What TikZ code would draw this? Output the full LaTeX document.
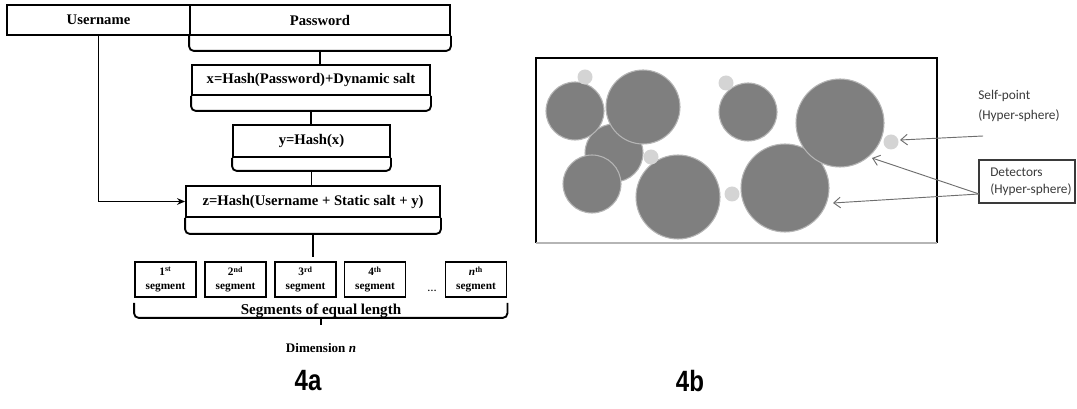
\documentclass[tikz,border=0pt]{standalone}
\usepackage{fontspec}
\setmainfont{Liberation Serif}
\newfontfamily\carl{Carlito}
\newfontfamily\lsans{Liberation Sans}
\usetikzlibrary{arrows.meta,calc}
\definecolor{dark}{HTML}{7F7F7F}
\definecolor{rim}{HTML}{B5B5B5}
\definecolor{light}{HTML}{D4D4D4}
\definecolor{txt}{HTML}{3A3A3A}
\definecolor{arr}{HTML}{6E6E6E}
\begin{document}
\begin{tikzpicture}[x=0.75pt,y=-0.75pt,
  box/.style={draw,line width=1.4pt,inner sep=0,font=\bfseries\fontsize{11}{13}\selectfont},
  brk/.style={draw,line width=1.4pt,rounded corners=3.5pt},
  tick/.style={draw,line width=1.4pt},
  seg/.style={draw,line width=1.4pt,minimum width=45.75pt,minimum height=26.25pt,inner sep=0,align=center,font=\bfseries\fontsize{8.5}{10.5}\selectfont},
  bigdisc/.style={fill=dark,draw=rim,line width=0.8pt},
  smalldisc/.style={fill=light,draw=none},
  lbl/.style={text=txt,font=\carl\fontsize{10}{15}\selectfont,align=left,inner sep=0},
  thinarrow/.style={draw=arr,line width=0.7pt,-{Straight Barb[length=5pt,width=8pt]}},
  fig/.style={font=\lsans\bfseries\fontsize{22}{26}\selectfont,inner sep=0}
]
\useasboundingbox (0,0) rectangle (1077,409);
% ---------- 4a ----------
\node[box,minimum width=137.25pt,minimum height=22.5pt] (un) at (98.5,20) {Username};
\node[box,minimum width=195pt,minimum height=22.5pt] (pw) at (320,20) {Password};
\node[box,minimum width=178.5pt,minimum height=22.5pt] (xh) at (311,80) {x=Hash(Password)+Dynamic salt};
\node[box,minimum width=117.75pt,minimum height=24pt] (yh) at (311.5,141) {y=Hash(x)};
\node[box,minimum width=190.5pt,minimum height=23.25pt] (zh) at (313,201.5) {z=Hash(Username + Static salt + y)};
% brackets
\draw[brk] (pw.south west) -- ++(0,15) -| (pw.south east);
\draw[brk] (xh.south west) -- ++(0,15) -| (xh.south east);
\draw[brk] (yh.south west) -- ++(0,13) -| (yh.south east);
\draw[brk] (zh.south west) -- ++(0,16) -| (zh.south east);
% ticks
\coordinate (pwb) at ($(pw.south)+(0,15)$);
\coordinate (xhb) at ($(xh.south)+(0,15)$);
\coordinate (yhb) at ($(yh.south)+(0,13)$);
\coordinate (zhb) at ($(zh.south)+(0,16)$);
\coordinate (zend) at ($(zhb)+(0,23)$);
\draw[tick] (pwb) -- (pwb |- xh.north);
\draw[tick] (xhb) -- (xhb |- yh.north);
\draw[tick] (yhb) -- (yhb |- zh.north);
\draw[tick] (zhb) -- (zend);
\draw[tick,-{Stealth[length=6pt,width=5pt]}] (un.south) |- (zh.west);
% segments
\node[seg] (s1) at (165.5,279.5) {1\textsuperscript{st}\\segment};
\node[seg] (s2) at (235.5,279.5) {2\textsuperscript{nd}\\segment};
\node[seg] (s3) at (305.5,279.5) {3\textsuperscript{rd}\\segment};
\node[seg] (s4) at (375,279.5) {4\textsuperscript{th}\\segment};
\node[seg] (sn) at (476,279.5) {\textit{n}\textsuperscript{th}\\segment};
\node[font=\bfseries\fontsize{7}{8}\selectfont,inner sep=0] (dots) at (432,291) {\dots};
\draw[brk] ($(s1.south west)+(0,5)$) -- ($(s1.south west)+(0,20)$) -| ($(sn.south east)+(0,5)$);
\coordinate (bmid) at ($(s1.south west)!0.5!(sn.south east)+(0,20)$);
\coordinate (bend) at ($(bmid)+(0,7)$);
\draw[tick] (bmid) -- (bend);
\node[font=\bfseries\fontsize{11.3}{13}\selectfont,anchor=base,inner sep=0] (eq) at (321,315) {Segments of equal length};
\node[font=\bfseries\fontsize{9.8}{11}\selectfont,inner sep=0] (dim) at (321,348) {Dimension \textit{n}};
% ---------- 4b ----------
\draw[line width=1.2pt] (536,243) -- (536,58) -- (937,58) -- (937,243);
\draw[line width=0.8pt,draw=rim] (536,243) -- (937,243);
\fill[bigdisc] (614,153) circle (29);
\fill[bigdisc] (575,111) circle (29);
\fill[bigdisc] (643,107) circle (37);
\fill[bigdisc] (592,184) circle (29);
\fill[bigdisc] (678,197) circle (42);
\fill[bigdisc] (748,112) circle (29);
\fill[bigdisc] (785,188) circle (44);
\fill[bigdisc] (840,123) circle (44);
\fill[smalldisc] (585,77) circle (7.5);
\fill[smalldisc] (726,83) circle (7.5);
\fill[smalldisc] (651,157) circle (7.5);
\fill[smalldisc] (732,194) circle (7.5);
\fill[smalldisc] (891,142) circle (7.5);
\node[lbl,anchor=west] (sp) at (978,106) {Self-point\\(Hyper-sphere)};
\node[draw=txt,line width=1.2pt,minimum width=72pt,minimum height=32.25pt,inner sep=0] (det) at (1027,181.5) {};
\node[lbl,anchor=west,font=\carl\fontsize{10}{12.5}\selectfont] (dett) at (990,181.5) {Detectors\\(Hyper-sphere)};
\coordinate (spstart) at (983,136);
\coordinate (sptip) at (900,140);
\coordinate (detstart) at (979,194);
\coordinate (dtip1) at (872,158);
\coordinate (dtip2) at (833,203);
\draw[thinarrow] (spstart) -- (sptip);
\draw[thinarrow] (detstart) -- (dtip1);
\draw[thinarrow] (detstart) -- (dtip2);
% ---------- captions ----------
\node[fig] (cap4a) at (308,381) {\scalebox{0.82}[1]{4a}};
\node[fig] (cap4b) at (690,381) {\scalebox{0.82}[1]{4b}};
\end{tikzpicture}
\end{document}
